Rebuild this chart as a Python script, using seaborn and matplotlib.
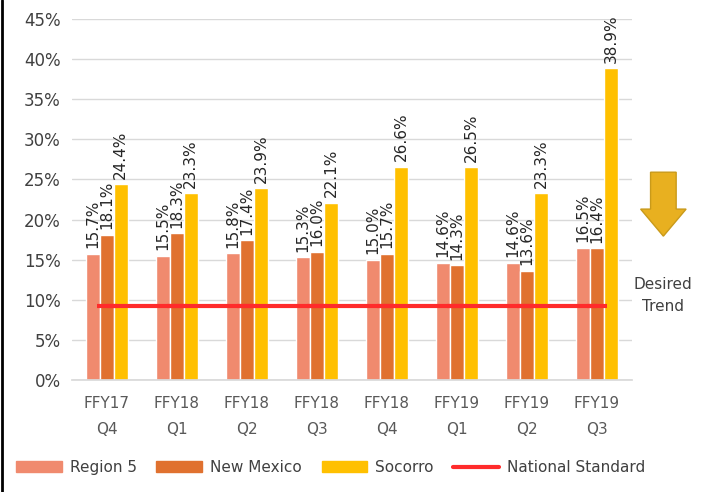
import pandas as pd
import matplotlib.pyplot as plt
import seaborn as sns
from matplotlib.patches import FancyArrow
from matplotlib.lines import Line2D

# Chart data
quarters = ["FFY17\nQ4", "FFY18\nQ1", "FFY18\nQ2", "FFY18\nQ3",
            "FFY18\nQ4", "FFY19\nQ1", "FFY19\nQ2", "FFY19\nQ3"]
region5 = [15.7, 15.5, 15.8, 15.3, 15.0, 14.6, 14.6, 16.5]
new_mexico = [18.1, 18.3, 17.4, 16.0, 15.7, 14.3, 13.6, 16.4]
socorro = [24.4, 23.3, 23.9, 22.1, 26.6, 26.5, 23.3, 38.9]
national_standard = [9.2] * len(quarters)
series_names = ["Region 5", "New Mexico", "Socorro"]
colors = ["#F08A6E", "#E0712F", "#FFC000"]

df = pd.DataFrame({
    "quarter": quarters * 3,
    "series": [s for s in series_names for _ in quarters],
    "value": [v / 100 for v in region5 + new_mexico + socorro],
})

sns.set_theme(style="white")
plt.rcParams['font.family'] = ['DejaVu Sans']

fig = plt.figure(figsize=(7.11, 4.92), dpi=100)
ax = fig.add_axes([0.101, 0.228, 0.788, 0.733])

sns.barplot(data=df, x="quarter", y="value", hue="series", palette=colors,
            width=0.6, saturation=1, ax=ax, legend=False)

for cont in ax.containers:
    ax.bar_label(cont, labels=[f"{b.get_height():.1%}" for b in cont],
                 rotation=90, padding=4, fontsize=11, color="#262626")

ax.plot(range(len(quarters)), [v / 100 for v in national_standard],
        color="#FF2B2B", lw=3, marker="_", markersize=14, mew=3, zorder=4)

ax.set_ylim(0, 0.45)
ax.set_xlim(-0.5, len(quarters) - 0.5)
ax.set_yticks([i / 100 for i in range(0, 50, 5)])
ax.set_yticklabels([f"{i}%" for i in range(0, 50, 5)], fontsize=12, color="#404040")
ax.tick_params(axis="x", labelsize=11, labelcolor="#595959", length=0, pad=12)
ax.tick_params(axis="y", length=0, pad=8)
for lbl in ax.get_xticklabels():
    lbl.set_linespacing(1.9)
ax.set_xlabel("")
ax.set_ylabel("")
ax.yaxis.grid(True, color="#D9D9D9", lw=1)
ax.set_axisbelow(True)
for side in ["top", "right", "left"]:
    ax.spines[side].set_visible(False)
ax.spines["bottom"].set_color("#D9D9D9")

# Desired trend arrow outside the plot area
arrow = FancyArrow(0.933, 0.65, 0, -0.13, width=0.036, head_width=0.064,
                   head_length=0.055, length_includes_head=True,
                   transform=fig.transFigure, color="#E8B020", ec="#C99A1A")
fig.patches.append(arrow)
fig.text(0.933, 0.40, "Desired\nTrend", ha="center", va="center",
         fontsize=11, color="#404040", linespacing=1.6)

# Left border line of the chart area
fig.add_artist(Line2D([0.003, 0.003], [0, 1], color="black", lw=2,
                      transform=fig.transFigure))

handles = [plt.Rectangle((0, 0), 1, 1, color=c) for c in colors]
handles.append(Line2D([], [], color="#FF2B2B", lw=3))
fig.legend(handles, series_names + ["National Standard"], loc="center",
           bbox_to_anchor=(0.465, 0.05), ncol=4, frameon=False, fontsize=11,
           handlelength=3.0, columnspacing=1.3, handletextpad=0.5,
           labelcolor="#404040")

plt.savefig("out.png", dpi=100)
plt.close()
